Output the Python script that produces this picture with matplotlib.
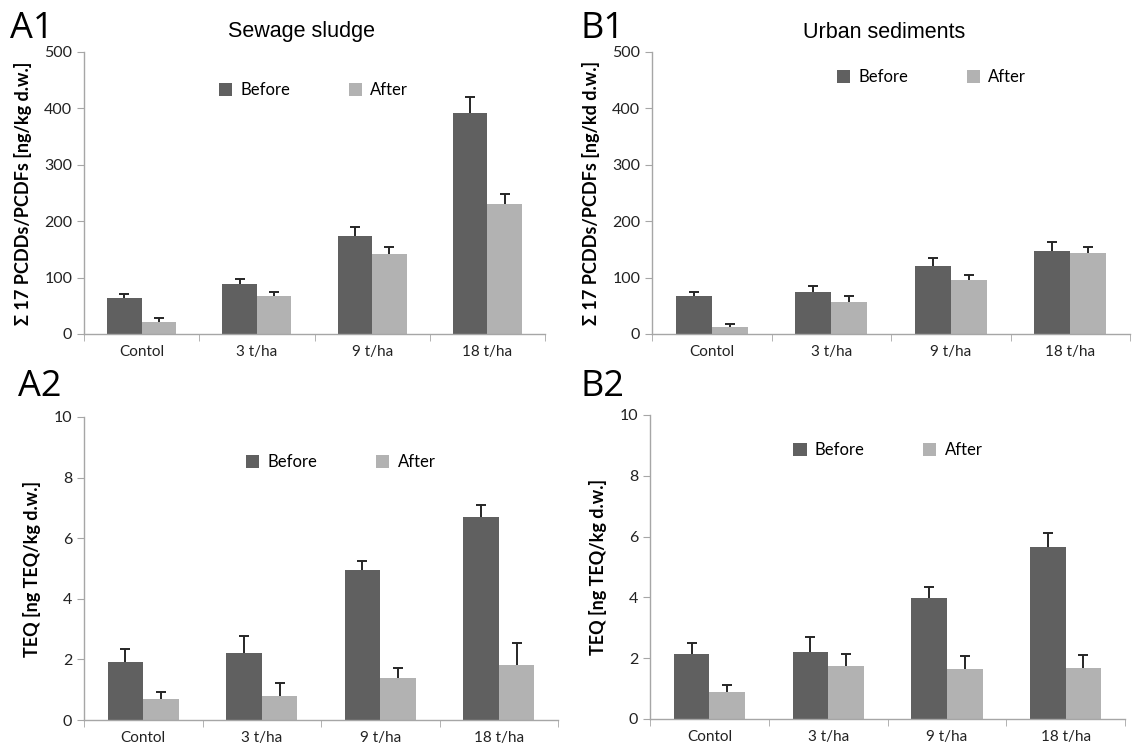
import numpy as np
import matplotlib
matplotlib.use('Agg')
import matplotlib.pyplot as plt

categories = ['Contol', '3 t/ha', '9 t/ha', '18 t/ha']

# A1 - sewage sludge, sum of 17 PCDDs/PCDFs
a1_before = [64, 89, 173, 392]
a1_before_err = [7, 9, 17, 28]
a1_after = [21, 67, 142, 230]
a1_after_err = [7, 8, 13, 18]

# B1 - urban sediments, sum of 17 PCDDs/PCDFs
b1_before = [67, 75, 120, 147]
b1_before_err = [7, 10, 14, 17]
b1_after = [12, 57, 95, 144]
b1_after_err = [5, 10, 10, 11]

# A2 - sewage sludge, TEQ
a2_before = [1.90, 2.20, 4.95, 6.70]
a2_before_err = [0.44, 0.58, 0.29, 0.40]
a2_after = [0.69, 0.80, 1.38, 1.82]
a2_after_err = [0.24, 0.41, 0.33, 0.72]

# B2 - urban sediments, TEQ
b2_before = [2.13, 2.21, 3.98, 5.67]
b2_before_err = [0.38, 0.49, 0.35, 0.44]
b2_after = [0.90, 1.75, 1.66, 1.69]
b2_after_err = [0.23, 0.40, 0.42, 0.43]

W, H = 1135, 745
fig = plt.figure(figsize=(W / 100, H / 100), dpi=100)

c_before = '#606060'
c_after = '#b2b2b2'
axis_col = '#a6a6a6'
tick_font = 'Lato'


def up_err(ax, xs, ys, err):
    eb = ax.errorbar(xs, ys, yerr=[np.zeros(len(ys)), err], fmt='none',
                     ecolor='#262626', elinewidth=1.4, capsize=3.5, capthick=1.4, zorder=3)
    # only the upper cap, like the excel plus-only bars
    eb[1][0].set_visible(False)


def make_panel(rect, before, berr, after, aerr, ymax, ystep, ylabel, leg_pos):
    l, t, r, b = rect
    ax = fig.add_axes([l / W, 1 - b / H, (r - l) / W, (b - t) / H])
    x = np.arange(len(categories))
    w = 0.3
    ax.bar(x - w / 2, before, w, color=c_before, label='Before', zorder=2)
    ax.bar(x + w / 2, after, w, color=c_after, label='After', zorder=2)
    up_err(ax, x - w / 2, before, berr)
    up_err(ax, x + w / 2, after, aerr)
    ax.set_xlim(-0.5, 3.5)
    ax.set_ylim(0, ymax)
    ax.set_yticks(np.arange(0, ymax + ystep / 2, ystep))
    ax.set_xticks(x)
    ax.set_xticklabels(categories, fontsize=11, family=tick_font, color='#222222')
    ax.tick_params(axis='x', length=0, pad=8)
    # category separator ticks
    ax.set_xticks(np.arange(-0.5, 4, 1), minor=True)
    ax.tick_params(axis='x', which='minor', length=5, color=axis_col, direction='out')
    ax.tick_params(axis='y', length=5, color=axis_col, labelsize=11.5, labelcolor='#222222')
    for lab in ax.get_yticklabels():
        lab.set_family(tick_font)
    for s in ['top', 'right']:
        ax.spines[s].set_visible(False)
    for s in ['left', 'bottom']:
        ax.spines[s].set_color(axis_col)
        ax.spines[s].set_linewidth(1.0)
    ax.set_ylabel(ylabel, fontsize=13, fontweight='bold', family=tick_font, labelpad=9)
    ax.legend(loc='center left', bbox_to_anchor=leg_pos, ncol=2, frameon=False,
              handlelength=0.8, handleheight=0.8, columnspacing=3.5, handletextpad=0.5,
              prop={'family': tick_font, 'size': 12})
    return ax


make_panel((84, 52, 545, 334), a1_before, a1_before_err, a1_after, a1_after_err,
           500, 100, 'Σ 17 PCDDs/PCDFs [ng/kg d.w.]', (0.26, 0.865))
make_panel((652, 52, 1130, 334), b1_before, b1_before_err, b1_after, b1_after_err,
           500, 100, 'Σ 17 PCDDs/PCDFs [ng/kd d.w.]', (0.355, 0.91))
make_panel((84, 417, 558, 720), a2_before, a2_before_err, a2_after, a2_after_err,
           10, 2, 'TEQ [ng TEQ/kg d.w.]', (0.31, 0.85))
make_panel((650, 415, 1125, 719), b2_before, b2_before_err, b2_after, b2_after_err,
           10, 2, 'TEQ [ng TEQ/kg d.w.]', (0.27, 0.885))

fig.text(302 / W, 1 - 32 / H, 'Sewage sludge', ha='center', va='center',
         fontsize=15.5, family='Liberation Sans')
fig.text(884 / W, 1 - 32 / H, 'Urban sediments', ha='center', va='center',
         fontsize=15.5, family='Liberation Sans')
for txt, px, py in [('A1', 10, 29), ('B1', 580, 29), ('A2', 18, 387), ('B2', 580, 387)]:
    fig.text(px / W, 1 - py / H, txt, ha='left', va='center', fontsize=26,
             family='Open Sans')

fig.savefig('out.png', dpi=100)
